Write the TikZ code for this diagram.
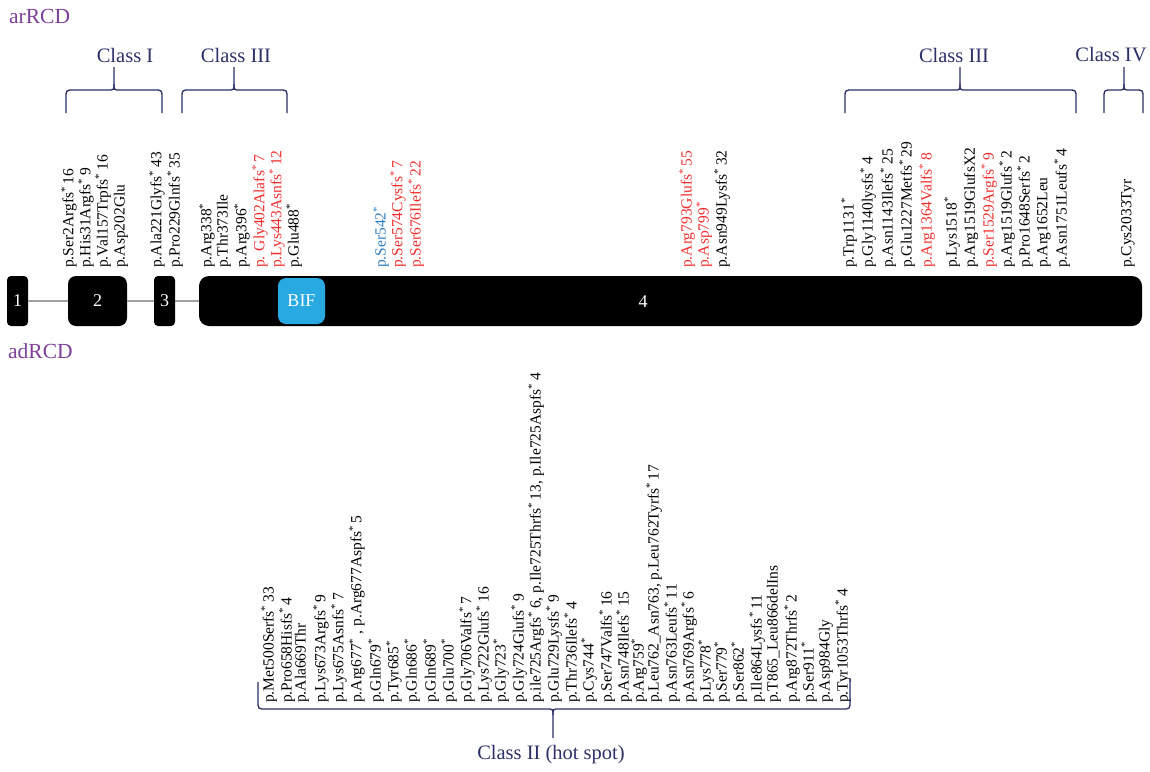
\documentclass[tikz,border=0pt]{standalone}
\usepackage{fontspec}
\setmainfont{Liberation Serif}
\usetikzlibrary{positioning}

\definecolor{navy}{RGB}{43,48,102}
\definecolor{rcdpurple}{RGB}{125,63,152}
\definecolor{mutred}{RGB}{240,45,45}
\definecolor{mutblue}{RGB}{47,125,194}
\definecolor{bifblue}{RGB}{41,169,225}
\definecolor{intron}{RGB}{160,160,160}

\begin{document}
\begin{tikzpicture}[x=1pt, y=-1pt,
  exon/.style={fill=black, text=white, minimum height=50pt, inner sep=0pt, font=\fontsize{18}{18}\selectfont},
  mut/.style={rotate=90, anchor=west, inner sep=0pt, font=\fontsize{15.5}{15.5}\selectfont},
  cls/.style={text=navy, inner sep=0pt, font=\fontsize{20.5}{20.5}\selectfont},
  brc/.style={navy, line width=1.3pt},
  grp/.style={text=rcdpurple, anchor=west, inner sep=0pt, font=\fontsize{21.5}{21.5}\selectfont}]
\def\sx{\textsuperscript{*}}
\useasboundingbox (0,0) rectangle (1150,771);

% groups
\node[grp] (ar) at (9,16) {arRCD};
\node[grp] (ad) at (8,351) {adRCD};

% exons
\node[exon, rounded corners=4pt, minimum width=21pt] (e1) at (17.5,301) {1};
\node[exon, rounded corners=8pt, minimum width=59pt] (e2) at (97.5,301) {2};
\node[exon, rounded corners=4pt, minimum width=21pt] (e3) at (164.5,301) {3};
\node[exon, rounded corners=10pt, minimum width=943pt] (e4) at (670.5,301) {};
\node[exon, fill=bifblue, rounded corners=8pt, minimum width=47pt, minimum height=46pt] (bif) at (301.5,301) {BIF};
\node[text=white, font=\fontsize{18}{18}\selectfont] (n4) at (643,302) {4};
\draw[intron, line width=2pt] (e1) -- (e2);
\draw[intron, line width=2pt] (e2) -- (e3);
\draw[intron, line width=2pt] (e3) -- (e4);

% arRCD variants
\foreach \x/\t/\c [count=\i] in {
  69/{p.Ser2Argfs\sx\,16}/black, 86/{p.His31Argfs\sx\,9}/black,
  103/{p.Val157Trpfs\sx\,16}/black, 121/{p.Asp202Glu}/black,
  157/{p.Ala221Glyfs\sx\,43}/black, 175/{p.Pro229Glnfs\sx\,35}/black,
  207/{p.Arg338\sx}/black, 224/{p.Thr373Ile}/black, 242/{p.Arg396\sx}/black,
  260/{p. Gly402Alafs\sx\,7}/mutred, 277/{p.Lys443Asnfs\sx\,12}/mutred,
  294/{p.Glu488\sx}/black,
  381/{p.Ser542\sx}/mutblue, 398/{p.Ser574Cysfs\sx\,7}/mutred,
  416/{p.Ser676Ilefs\sx\,22}/mutred,
  687/{p.Arg793Glufs\sx\,55}/mutred, 704/{p.Asp799\sx}/mutred,
  722/{p.Asn949Lysfs\sx\,32}/black,
  849/{p.Trp1131\sx}/black, 868/{p.Gly1140lysfs\sx\,4}/black,
  888/{p.Asn1143Ilefs\sx\,25}/black, 907/{p.Glu1227Metfs\sx\,29}/black,
  927/{p.Arg1364Valfs\sx\,8}/mutred,
  952/{p.Lys1518\sx}/black, 971/{p.Arg1519GlufsX2}/black,
  989/{p.Ser1529Argfs\sx\,9}/mutred, 1007/{p.Arg1519Glufs\sx\,2}/black,
  1025/{p.Pro1648Serfs\sx\,2}/black, 1044/{p.Arg1652Leu}/black,
  1062/{p.Asn1751Leufs\sx\,4}/black,
  1128/{p.Cys2033Tyr}/black}
  \node[mut, text=\c] (ar\i) at (\x,268) {\t};

% adRCD variants
\foreach \x/\t [count=\i] in {
  269/{p.Met500Serfs\sx\,33}, 287/{p.Pro658Hisfs\sx\,4}, 302/{p.Ala669Thr},
  321/{p.Lys673Argfs\sx\,9}, 339/{p.Lys675Asnfs\sx\,7},
  357/{p.Arg677\sx\ , p.Arg677Aspfs\sx\,5}, 376/{p.Gln679\sx},
  394/{p.Tyr685\sx}, 412/{p.Gln686\sx}, 431/{p.Gln689\sx}, 449/{p.Glu700\sx},
  467/{p.Gly706Valfs\sx\,7}, 484/{p.Lys722Glufs\sx\,16}, 501/{p.Gly723\sx},
  519/{p.Gly724Glufs\sx\,9},
  536/{p.ile725Argfs\sx\,6, p.Ile725Thrfs\sx\,13, p.Ile725Aspfs\sx\,4},
  554/{p.Glu729Lysfs\sx\,9}, 572/{p.Thr736Ilefs\sx\,4}, 589/{p.Cys744\sx},
  607/{p.Ser747Valfs\sx\,16}, 624/{p.Asn748Ilefs\sx\,15}, 639/{p.Arg759\sx},
  654/{p.Leu762\_Asn763, p.Leu762Tyrfs\sx\,17}, 672/{p.Asn763Leufs\sx\,11},
  689/{p.Asn769Argfs\sx\,6}, 706/{p.Lys778\sx}, 722/{p.Ser779\sx},
  739/{p.Ser862\sx}, 757/{p.Ile864Lysfs\sx\,11}, 774/{p.T865\_Leu866delIns},
  792/{p.Arg872Thrfs\sx\,2}, 809/{p.Ser911\sx}, 826/{p.Asp984Gly},
  843/{p.Tyr1053Thrfs\sx\,4}}
  \node[mut] (ad\i) at (\x,703) {\t};

% class braces (top)
\foreach \a/\b/\t/\lx/\txt [count=\i] in {66/162/114/125/Class I, 182/287/234/236/Class III,
    845/1076/960/954/Class III, 1104/1143/1124/1111/Class IV} {
  \draw[brc] (\a,113) -- (\a,98) .. controls (\a,90) .. ({\a+8},90) -- ({\t-6},90)
    .. controls (\t,90) .. (\t,84) -- (\t,67);
  \draw[brc] (\t,84) .. controls (\t,90) .. ({\t+6},90) -- ({\b-8},90)
    .. controls (\b,90) .. (\b,98) -- (\b,113);
  \node[cls] (cl\i) at (\lx,55) {\txt};
}

% class brace (bottom)
\draw[brc] (258,682) -- (258,701) .. controls (258,709) .. (266,709) -- (547,709)
  .. controls (553,709) .. (553,715) -- (553,738);
\draw[brc] (553,715) .. controls (553,709) .. (559,709) -- (842,709)
  .. controls (850,709) .. (850,701) -- (850,678);
\node[cls] (cl5) at (551,755) {Class II (hot spot)};
\end{tikzpicture}
\end{document}
